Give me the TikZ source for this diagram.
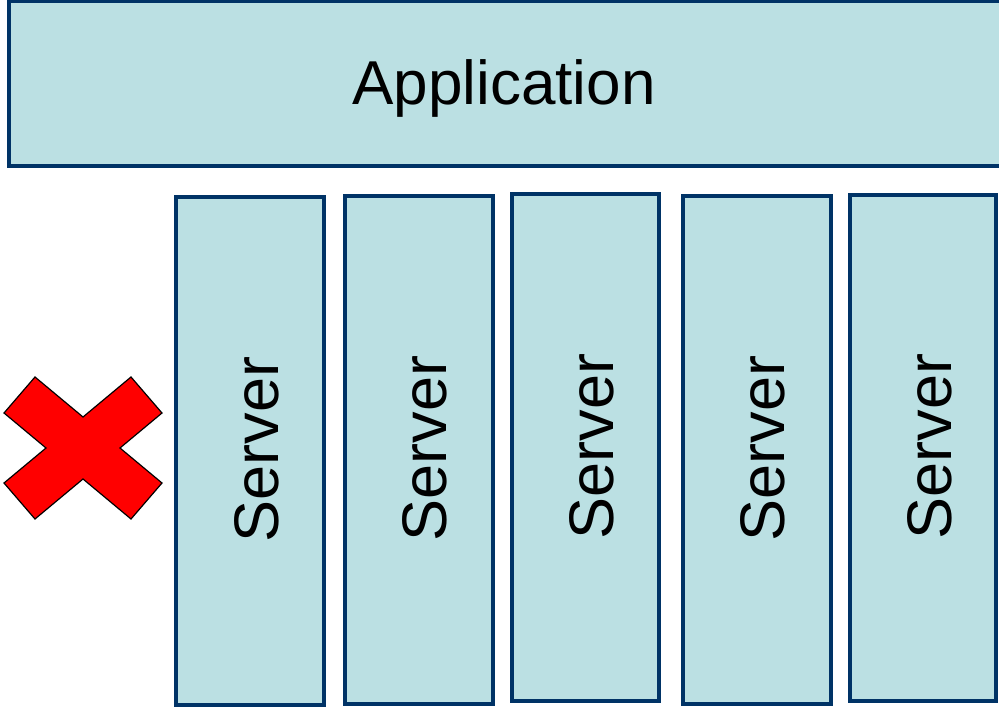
\documentclass[tikz,border=0pt]{standalone}
\usepackage{fontspec}
\setmainfont{Liberation Sans}
\definecolor{boxfill}{RGB}{187,224,227}
\definecolor{boxline}{RGB}{0,51,102}
\definecolor{xred}{RGB}{255,0,0}
\begin{document}
\begin{tikzpicture}[x=1pt,y=-1pt,
  box/.style={draw=boxline, fill=boxfill, line width=4pt, rectangle, inner sep=0pt},
  apptextstyle/.style={font=\fontsize{62}{74}\selectfont, text height=44.4pt, text depth=0pt, inner sep=0pt},
  servertext/.style={font=\fontsize{63}{75}\selectfont, text height=45.1pt, text depth=0pt, inner sep=0pt, rotate=90},
  cross/.style={draw=black, fill=xred, line width=1.2pt, line join=miter}]
\clip (0,0) rectangle (999,709);
\node[box, minimum width=993pt, minimum height=164.5pt] (app) at (505.5,83.75) {};
\node[apptextstyle] (apptext) at (504,82.5) {Application};

\node[box, minimum width=148pt, minimum height=508pt] (s1) at (250,451) {};
\node[box, minimum width=147.5pt, minimum height=508pt] (s2) at (418.75,450) {};
\node[box, minimum width=147pt, minimum height=507pt] (s3) at (585.5,447.5) {};
\node[box, minimum width=148pt, minimum height=508pt] (s4) at (757,450) {};
\node[box, minimum width=146pt, minimum height=506.5pt] (s5) at (923,447.75) {};

\node[servertext] (t1) at (255.5,449.5) {Server};
\node[servertext] (t2) at (424,448.5) {Server};
\node[servertext] (t3) at (590.5,446.5) {Server};
\node[servertext] (t4) at (762,448.5) {Server};
\node[servertext] (t5) at (929,446.5) {Server};

\draw[cross] (35,377) -- (83,417) -- (131,377) -- (162,413) -- (120,448) -- (162,483)
  -- (131,519) -- (83,479) -- (35,519) -- (4,483) -- (46,448) -- (4,413) -- cycle;
\end{tikzpicture}
\end{document}
